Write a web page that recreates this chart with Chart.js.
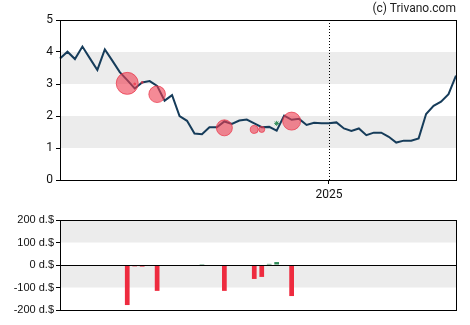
<!DOCTYPE html>
<html>
<head>
<meta charset="utf-8">
<script src="https://cdn.jsdelivr.net/npm/chart.js@4.4.1/dist/chart.umd.min.js"></script>
<style>
  html, body { margin: 0; padding: 0; background: #fff; }
  #wrap { position: relative; width: 470px; height: 325px; }
  #priceBox { position: absolute; left: 0; top: 0; width: 470px; height: 200px; }
  #tradeBox { position: absolute; left: 0; top: 200px; width: 470px; height: 125px; }
  #copy { position: absolute; right: 14px; top: 1px; font: 12px Roboto, sans-serif; color: #222; }
</style>
</head>
<body>
<div id="wrap">
  <div id="priceBox"><canvas id="priceCanvas"></canvas></div>
  <div id="tradeBox"><canvas id="tradeCanvas"></canvas></div>
  <div id="copy">(c) Trivano.com</div>
</div>
<script>
(function() {
'use strict';

// weekly closes, one year of data
var weeks = ['', '', '', '', '', '', '', '', '', '', '', '', '', '', '', '', '', '',
  '', '', '', '', '', '', '', '', '', '', '', '', '', '', '', '', '', '', '2025',
  '', '', '', '', '', '', '', '', '', '', '', '', '', '', '', '', ''];
var prices = [3.80, 4.01, 3.78, 4.17, 3.80, 3.44, 4.08, 3.73, 3.37, 3.12,
  2.86, 3.05, 3.09, 2.94, 2.48, 2.65, 2.00, 1.85, 1.45, 1.43,
  1.65, 1.65, 1.83, 1.75, 1.86, 1.89, 1.77, 1.65, 1.66, 1.54,
  2.01, 1.88, 1.91, 1.72, 1.79, 1.77, 1.77, 1.80, 1.61, 1.53,
  1.61, 1.40, 1.48, 1.48, 1.35, 1.17, 1.23, 1.23, 1.30, 2.06,
  2.32, 2.45, 2.68, 3.26];

// insider sales: week index, price, bubble size
var sellWeek = [9, 10, 11, 13, 22, 26, 27, 31];
var sellPrice = [3.02, 3.00, 3.05, 2.68, 1.63, 1.58, 1.58, 1.84];
var sellSize = [11, 1, 1, 8.3, 8, 4, 3, 9];
var buyWeek = [29];
var buyPrice = [1.77];

// net insider flow per week, in d.$
var flowWeek = [9, 10, 11, 13, 19, 22, 26, 27, 28, 29, 31];
var flowValue = [-178, -6, -7, -115, 4, -115, -62, -53, 5, 13, -138];

var priceBands = [[1, 2], [3, 4]];
var flowBands = [[-100, 0], [100, 200]];
var markWeek = 36;

var flow = weeks.map(function() { return null; });
flowWeek.forEach(function(w, i) { flow[w] = flowValue[i]; });

var RED = '#ee2b3f';
var GREEN = '#2e8b57';
var BAND = '#ececec';

function bandsPlugin(bands, zeroLine, markIdx) {
  return {
    id: 'bands',
    beforeDatasetsDraw: function(chart) {
      var ctx = chart.ctx, a = chart.chartArea, y = chart.scales.y;
      ctx.save();
      ctx.fillStyle = BAND;
      bands.forEach(function(b) {
        var y1 = y.getPixelForValue(b[1]), y0 = y.getPixelForValue(b[0]);
        ctx.fillRect(a.left, y1, a.right - a.left, y0 - y1);
      });
      if (markIdx != null) {
        var x = Math.round(chart.scales.x.getPixelForValue(markIdx)) + 0.5;
        ctx.strokeStyle = '#000';
        ctx.lineWidth = 1;
        ctx.setLineDash([1, 2]);
        ctx.beginPath();
        ctx.moveTo(x, a.top);
        ctx.lineTo(x, a.bottom);
        ctx.stroke();
      }
      ctx.restore();
    },
    afterDraw: function(chart) {
      var ctx = chart.ctx, a = chart.chartArea;
      ctx.save();
      ctx.strokeStyle = '#000';
      ctx.lineWidth = 1;
      if (zeroLine) {
        var z = Math.round(chart.scales.y.getPixelForValue(0)) + 0.5;
        ctx.beginPath();
        ctx.moveTo(a.left, z);
        ctx.lineTo(a.right, z);
        ctx.stroke();
      }
      ctx.strokeRect(Math.round(a.left) + 0.5, Math.round(a.top) + 0.5,
        Math.round(a.right - a.left), Math.round(a.bottom - a.top));
      ctx.restore();
    }
  };
}

new Chart(document.getElementById('priceCanvas').getContext('2d'), {
  type: 'line',
  data: {
    labels: weeks,
    datasets: [{
      data: prices,
      borderColor: '#163c5a',
      borderWidth: 2,
      pointRadius: 0,
      tension: 0,
      order: 3
    }, {
      // x here is already the week index on the category axis
      type: 'bubble',
      parsing: false,
      data: sellWeek.map(function(w, i) { return { x: w, y: sellPrice[i], r: sellSize[i] }; }),
      radius: function(c) { return c.raw ? c.raw.r : 0; },
      backgroundColor: 'rgba(238,60,80,0.6)',
      borderColor: 'rgba(232,50,70,0.7)',
      borderWidth: 1,
      order: 1
    }, {
      type: 'scatter',
      parsing: false,
      data: buyWeek.map(function(w, i) { return { x: w, y: buyPrice[i] }; }),
      pointStyle: 'star',
      pointRadius: 2.5,
      borderColor: GREEN,
      backgroundColor: GREEN,
      borderWidth: 1,
      showLine: false,
      order: 2
    }]
  },
  options: {
    responsive: true,
    maintainAspectRatio: false,
    animation: false,
    layout: { padding: { left: 0, right: 14, top: 20, bottom: 0 } },
    plugins: { legend: { display: false }, tooltip: { enabled: false } },
    scales: {
      x: {
        type: 'category',
        offset: false,
        afterFit: function(s) { s.height = 20; },
        grid: {
          drawOnChartArea: false,
          tickLength: 4,
          color: function(c) { return c.tick && c.tick.label ? '#000' : 'rgba(0,0,0,0)'; }
        },
        border: { display: false },
        ticks: {
          autoSkip: false,
          maxRotation: 0,
          padding: 4,
          color: '#111',
          font: { family: 'Roboto', size: 12 }
        }
      },
      y: {
        min: 0,
        max: 5,
        afterFit: function(s) { s.width = 60; },
        grid: { drawOnChartArea: false, tickLength: 4, color: '#000' },
        border: { display: false },
        ticks: { stepSize: 1, padding: 3, color: '#111', font: { family: 'Roboto', size: 12 } }
      }
    }
  },
  plugins: [bandsPlugin(priceBands, false, markWeek)]
});

new Chart(document.getElementById('tradeCanvas').getContext('2d'), {
  type: 'bar',
  data: {
    labels: weeks,
    datasets: [{
      data: flow,
      backgroundColor: function(c) { return c.raw < 0 ? RED : GREEN; },
      barPercentage: 0.63,
      categoryPercentage: 1
    }]
  },
  options: {
    responsive: true,
    maintainAspectRatio: false,
    animation: false,
    layout: { padding: { left: 0, right: 14, top: 20, bottom: 15 } },
    plugins: { legend: { display: false }, tooltip: { enabled: false } },
    scales: {
      x: { type: 'category', offset: false, display: false },
      y: {
        min: -200,
        max: 200,
        afterFit: function(s) { s.width = 60; },
        grid: { drawOnChartArea: false, tickLength: 4, color: '#000' },
        border: { display: false },
        ticks: {
          stepSize: 100,
          padding: 2,
          color: '#111',
          font: { family: 'Liberation Sans', size: 11 },
          callback: function(v) { return v + ' d.$'; }
        }
      }
    }
  },
  plugins: [bandsPlugin(flowBands, true, null)]
});

})();
</script>
</body>
</html>
